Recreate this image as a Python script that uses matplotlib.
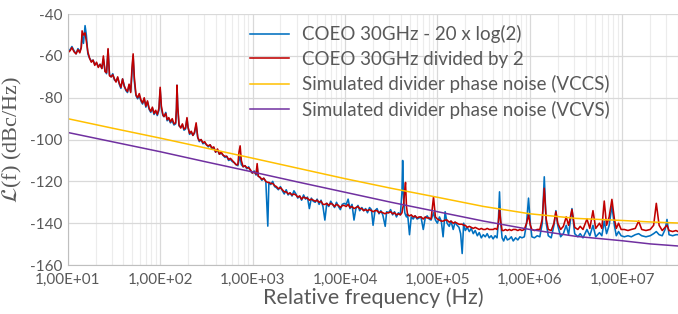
import matplotlib
matplotlib.use("Agg")
import matplotlib.pyplot as plt
from matplotlib.ticker import FixedLocator, FuncFormatter, LogLocator, NullFormatter

plt.rcParams["font.family"] = ["Lato", "DejaVu Sans"]
plt.rcParams["mathtext.fontset"] = "stix"
plt.rcParams["axes.unicode_minus"] = False

# measured phase noise, one line per decade (Hz / dBc/Hz)
freq_hz = [
    10.0, 10.6, 11.1, 11.7, 12.3, 12.9, 13.5, 14.0, 14.3, 14.8,
    15.4, 15.9, 16.5, 17.2, 18.0, 18.8, 19.6, 20.5, 21.4, 22.4,
    23.4, 24.3, 25.3, 26.3, 27.3, 28.3, 29.5, 30.7, 32.0, 33.3,
    34.7, 36.1, 37.6, 39.2, 40.8, 42.5, 44.3, 46.1, 48.0, 49.5,
    51.0, 52.5, 54.7, 57.0, 59.4, 61.9, 64.5, 67.2, 70.0, 72.9,
    75.9, 79.1, 82.4, 85.8, 89.4, 93.1, 97.0, 100, 103, 107,
    110, 115, 119, 124, 129, 135, 141, 147, 150, 152,
    155, 160, 167, 174, 181, 188, 195, 200, 208, 217,
    226, 235, 245, 255, 265, 277, 290, 303, 317, 332,
    347, 363, 380, 398, 417, 437, 458, 480, 502, 525,
    550, 576, 603, 632, 662, 693, 712, 733, 755, 790,
    827, 866, 906, 949,
    993, 1040, 1090, 1120, 1150, 1200, 1260, 1320, 1390, 1460,
    1500, 1570, 1650, 1730, 1810, 1900, 2000, 2100, 2200, 2310,
    2420, 2540, 2670, 2800, 2940, 3080, 3230, 3390, 3560, 3740,
    3920, 4110, 4320, 4530, 4760, 4990, 5240, 5500, 5770, 6050,
    6350, 6670, 7000, 7340, 7700, 8080, 8480, 8900, 9340, 9800,
    10300, 10800, 11300, 11900, 12500, 13100, 13800, 14400, 15200, 15900,
    16700, 17500, 18400, 19300, 20100, 21100, 22200, 23300, 24400, 25600,
    27200, 28200, 29600, 31100, 32700, 34300, 36000, 37800, 39700, 41300,
    42000, 43000, 44300, 45100, 46200, 47500, 49800, 52000, 54600, 57300,
    60200, 63200, 66300, 70200, 73700, 77400, 81300, 85300, 90600, 95000,
    99800,
    1.05e5, 1.10e5, 1.15e5, 1.21e5, 1.27e5, 1.34e5, 1.40e5, 1.48e5, 1.55e5, 1.63e5,
    1.71e5, 1.78e5, 1.85e5, 1.92e5, 2.00e5, 2.10e5, 2.21e5, 2.32e5, 2.44e5, 2.56e5,
    2.70e5, 2.83e5, 2.98e5, 3.13e5, 3.29e5, 3.45e5, 3.63e5, 3.81e5, 4.00e5, 4.20e5,
    4.41e5, 4.55e5, 4.69e5, 4.83e5, 5.00e5, 5.20e5, 5.45e5, 5.70e5, 6.00e5, 6.30e5,
    6.60e5, 7.00e5, 7.40e5, 7.80e5, 8.20e5, 8.70e5, 9.20e5, 9.66e5, 1.01e6,
    1.05e6, 1.12e6, 1.20e6, 1.28e6, 1.36e6, 1.43e6, 1.50e6, 1.58e6, 1.70e6, 1.82e6,
    1.91e6, 2.00e6, 2.15e6, 2.30e6, 2.47e6, 2.62e6, 2.85e6, 3.05e6, 3.30e6, 3.50e6,
    3.75e6, 4.14e6, 4.45e6, 4.81e6, 5.15e6, 5.66e6, 6.00e6, 6.37e6, 6.75e6, 7.20e6,
    7.71e6, 8.20e6, 8.60e6, 9.10e6, 9.70e6, 1.05e7, 1.15e7, 1.25e7, 1.38e7, 1.50e7,
    1.62e7, 1.80e7, 2.00e7, 2.18e7, 2.33e7, 2.50e7, 2.70e7, 2.90e7, 3.04e7, 3.20e7,
    3.50e7, 3.80e7, 4.00e7,
]

coeo_minus_6db = [
    -58, -57, -55.5, -57.5, -59, -56.5, -58, -56, -50, -54,
    -45.5, -50, -59, -61, -62.5, -62, -64, -63.5, -65, -64,
    -66, -61.5, -67, -68.5, -57, -69, -70, -68.5, -71.5, -72,
    -70.5, -73.5, -75.5, -71, -74, -76.5, -77.5, -74, -77, -68,
    -60, -72, -79, -80.5, -79, -81.5, -83, -80.5, -84.5, -82,
    -85.5, -87, -85, -88, -86.5, -88.5, -86, -76, -85, -88.5,
    -89, -87, -91, -90, -92, -91, -93, -92.5, -86, -74,
    -85, -93.5, -94, -93, -95.5, -95, -90, -94, -97.5, -96.5,
    -98, -97, -93, -99, -101, -100, -102, -101.5, -102.5, -103.5,
    -102.5, -104.5, -104, -106, -105, -107, -106.5, -107.5, -108.5, -108,
    -110, -109.5, -110.5, -111, -112, -112.5, -110, -108, -112, -113,
    -112.5, -114, -113, -115,
    -116, -115, -117, -113, -117.5, -118, -119.5, -118.5, -120, -141.4,
    -120.5, -121.5, -120, -122.5, -123, -124, -122.5, -124.5, -126, -124,
    -126.5, -125.5, -127, -124.5, -126, -128, -127, -129, -126.5, -128.5,
    -127.5, -133, -128, -129.5, -130, -128.5, -131, -129, -132, -138.5,
    -130.5, -132, -129.5, -131, -132.5, -130, -132, -133.5, -131, -130.5,
    -131, -128.5, -133, -131, -138.5, -133, -131.5, -134, -132.5, -134,
    -133, -135, -132.5, -133.5, -141, -134, -133, -135.5, -134, -136,
    -141.5, -134.5, -135, -133.5, -136, -134.5, -137, -135, -136, -125,
    -110, -128, -135, -136, -137, -135.5, -145.5, -137, -138, -136.5,
    -138, -137.5, -137, -143, -137.5, -136.5, -138, -138.5, -135, -138.5,
    -140,
    -137, -139, -146.5, -134.5, -140, -141.5, -139, -143, -139.5, -141,
    -142, -145, -154.5, -140, -143.5, -142, -144, -142.5, -145, -143.5,
    -146, -144.5, -147, -145.5, -146.5, -145, -147, -146, -147.5, -146,
    -147, -140, -125, -140, -147, -148.5, -146, -148, -147.5, -146.5,
    -148.5, -147, -148, -146.5, -147, -146.5, -140, -128, -140,
    -146.5, -147, -146, -146.5, -140, -117.8, -140, -146, -147, -141,
    -134, -141, -146.5, -145, -141, -145.5, -133, -145, -146.5, -145,
    -147, -143, -146, -141, -146.5, -144.5, -146, -139, -145, -141,
    -131.7, -141, -146, -144, -146, -146.5, -146, -146.5, -145.5, -145,
    -146, -146.5, -146, -145, -144, -145.5, -146, -143, -138.2, -145.5,
    -146, -145.5, -145.5,
]

coeo_divided = [
    -58.5, -57.5, -56, -58, -59, -57, -58.5, -56, -48, -50,
    -49, -53, -58, -61, -63, -62, -64.5, -63, -65.5, -64,
    -66, -60, -67.5, -68, -56.5, -69.5, -70, -69, -71, -72.5,
    -70, -73, -75, -71, -74.5, -76, -77, -73.5, -77.5, -66,
    -59, -70, -78.5, -80, -78, -81, -82.5, -80, -84, -81.5,
    -85, -86.5, -84.5, -87.5, -86, -88, -85, -75, -84, -88,
    -89, -87.5, -90.5, -89.5, -91.5, -90, -92.5, -92, -85, -74,
    -84, -93, -94.5, -92.5, -95, -94.5, -89.5, -94, -97, -96,
    -98, -96.5, -92, -99, -100.5, -100, -101.5, -101, -102.5, -103,
    -102.5, -104, -103.5, -106, -104.5, -107, -106, -107.5, -108, -108,
    -109.5, -109, -110, -111, -112, -112, -106, -103, -110, -113,
    -112.5, -113.5, -113.5, -114.5,
    -116, -115.5, -116.5, -111.5, -117.5, -118, -119, -118.5, -120, -120.5,
    -120.5, -121, -121, -122, -122.5, -123.5, -123, -124, -125, -125,
    -126, -125.5, -126.5, -126, -126.5, -127.5, -127, -128.5, -127.5, -128,
    -128, -129, -128.5, -129, -129.5, -129, -130, -129.5, -131, -131,
    -130.5, -131.5, -130.5, -131, -132, -131, -131.5, -132.5, -131.5, -131.5,
    -132, -131, -132.5, -132, -133, -132.5, -132, -133, -133, -134,
    -133.5, -134, -133.5, -134, -134.5, -134, -134, -135, -134.5, -135,
    -135.5, -135, -135, -134.5, -135.5, -135, -136, -135.5, -136, -135,
    -133, -131, -124, -120.5, -132, -136, -136.5, -136, -137, -136.5,
    -137.5, -137, -137, -138, -137, -137.5, -137.5, -138, -127.5, -137,
    -138,
    -138.5, -139, -139, -138.5, -138.5, -139.5, -139, -140, -139.5, -140,
    -140.5, -140.5, -140.5, -141, -141, -142, -141.5, -142, -142.5, -142,
    -142.5, -143, -142.5, -143, -143, -142.5, -143, -143, -143, -142.5,
    -143, -140, -133, -139, -143.5, -143.5, -143, -143.5, -143, -143.5,
    -143, -143, -143.5, -143, -143.5, -143, -140, -136, -141,
    -143, -143.5, -143, -143, -138, -123.3, -138, -143, -143.5, -140,
    -134.5, -140, -143, -141.5, -137, -141, -133.5, -142, -143, -141.5,
    -143, -138, -142.5, -134, -142.5, -140, -142.5, -129.4, -141, -137,
    -128.6, -138, -142.5, -140, -143, -143, -143.5, -143, -142.5, -139,
    -143, -143.5, -143, -141, -130.5, -141, -143.5, -142, -141, -143.5,
    -144, -143.5, -144,
]

# simulated divider phase noise
sim_freq_hz = [10, 31.6, 100, 316, 1e3, 3.16e3, 1e4, 3.16e4, 1e5, 3.16e5, 1e6, 3.16e6, 1e7, 2e7, 4e7]
sim_vccs = [-90, -94.7, -99.3, -104.1, -108.9, -113.8, -118.7, -123.3, -127.6, -132, -135.5, -137.7, -138.7, -139.4, -139.9]
sim_vcvs = [-96.6, -101.2, -105.8, -110.7, -115.5, -120.4, -125.2, -130, -134.5, -139, -143, -146.3, -148.4, -149.9, -150.9]

assert len(freq_hz) == len(coeo_minus_6db) == len(coeo_divided)

labels = [
    "COEO 30GHz - 20 x log(2)",
    "COEO 30GHz divided by 2",
    "Simulated divider phase noise (VCCS)",
    "Simulated divider phase noise (VCVS)",
]

fig = plt.figure(figsize=(6.78, 3.14), dpi=100)
ax = fig.add_axes([0.0999, 0.156, 0.9001, 0.799])

ax.plot(freq_hz, coeo_minus_6db, color="#0070C0", lw=1.15, label=labels[0])
ax.plot(freq_hz, coeo_divided, color="#C00000", lw=1.15, label=labels[1])
ax.plot(sim_freq_hz, sim_vccs, color="#FFC000", lw=1.1, label=labels[2])
ax.plot(sim_freq_hz, sim_vcvs, color="#7030A0", lw=1.1, label=labels[3])

ax.set_xscale("log")
ax.set_xlim(10, 4e7)
ax.set_ylim(-160, -40)
ax.xaxis.set_major_locator(FixedLocator([1e1, 1e2, 1e3, 1e4, 1e5, 1e6, 1e7]))
ax.xaxis.set_major_formatter(FuncFormatter(lambda v, p: f"{v:.2E}".replace(".", ",")))
ax.xaxis.set_minor_locator(LogLocator(base=10, subs=range(2, 10), numticks=20))
ax.xaxis.set_minor_formatter(NullFormatter())
ax.set_yticks(range(-160, -39, 20))
ax.yaxis.set_major_formatter(FuncFormatter(lambda v, p: f"{int(v)}"))

ax.grid(True, which="major", color="#d9d9d9", lw=0.9)
ax.grid(True, which="minor", axis="x", color="#ececec", lw=0.8)
ax.set_axisbelow(True)
for side in ("top", "right"):
    ax.spines[side].set_visible(False)
for side in ("left", "bottom"):
    ax.spines[side].set_color("#bfbfbf")
ax.tick_params(which="both", length=0, labelsize=11, labelcolor="#595959")
ax.tick_params(axis="x", pad=6)
ax.tick_params(axis="y", pad=4)

ax.set_xlabel("Relative frequency (Hz)", fontsize=15.5, color="#595959", labelpad=0)
ax.set_ylabel(r"$\mathcal{L}$(f) (dBc/Hz)", fontsize=16, color="#595959",
              family=["Liberation Serif", "DejaVu Serif"], labelpad=4)

ax.legend(loc="upper left", bbox_to_anchor=(250 / 678, 1 - 25 / 314), bbox_transform=fig.transFigure,
          frameon=False, fontsize=13.5, handlelength=2.1, handletextpad=0.65, labelspacing=0.4,
          borderpad=0, borderaxespad=0, labelcolor="#595959")

fig.savefig("out.png", dpi=100)
